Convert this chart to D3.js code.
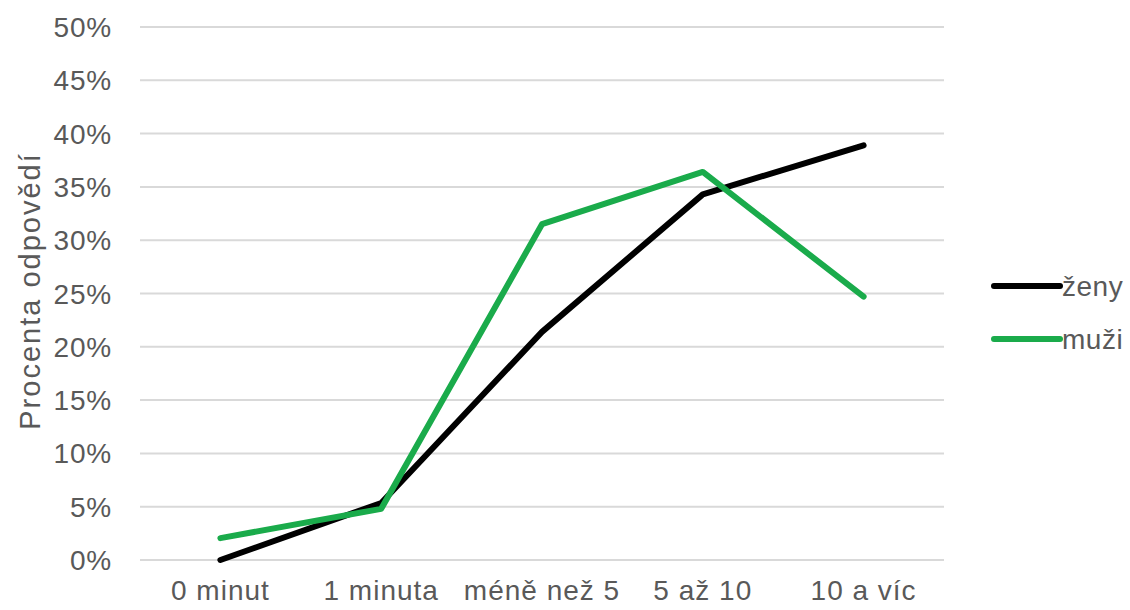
<!DOCTYPE html>
<html><head><meta charset="utf-8">
<script src="https://cdn.jsdelivr.net/npm/d3@7"></script>
<style>body{margin:0;background:#fff}svg{display:block}text{font-family:"Liberation Sans",Arial,sans-serif;fill:#595959}</style>
</head><body><svg id="c" width="1130" height="610"></svg>
<script>
const categories = ["0 minut","1 minuta","méně než 5","5 až 10","10 a víc"];
const zeny = [0.0, 5.35, 21.4, 34.3, 38.9];
const muzi = [2.05, 4.8, 31.5, 36.4, 24.7];
const yTicks = [0,5,10,15,20,25,30,35,40,45,50];
const seriesNames = ["ženy","muži"];
const seriesColors = ["#000000","#1aab4b"];

const svg = d3.select("#c");
const x = d3.scaleBand().domain(categories).range([140,944]);
const y = d3.scaleLinear().domain([0,50]).range([560,27]);
const fs = 28;

svg.append("g").selectAll("line").data(yTicks).join("line")
  .attr("x1",140).attr("x2",944).attr("y1",d=>y(d)).attr("y2",d=>y(d))
  .attr("stroke","#d9d9d9").attr("stroke-width",2);

svg.append("g").selectAll("text").data(yTicks).join("text")
  .attr("x",112).attr("y",d=>y(d)).attr("dy","0.36em").attr("text-anchor","end")
  .attr("font-size",fs).attr("letter-spacing",0.8).text(d=>d+"%");

svg.append("g").selectAll("text").data(categories).join("text")
  .attr("x",d=>x(d)+x.bandwidth()/2).attr("y",600).attr("text-anchor","middle")
  .attr("font-size",fs).attr("letter-spacing",1).text(d=>d);

svg.append("text").attr("transform","translate(40,291) rotate(-90)")
  .attr("text-anchor","middle").attr("font-size",29).attr("letter-spacing",2).text("Procenta odpovědí");

const line = d3.line().x((d,i)=>x(categories[i])+x.bandwidth()/2).y(d=>y(d));
[zeny,muzi].forEach((s,k)=>{
  svg.append("path").datum(s).attr("d",line).attr("fill","none")
    .attr("stroke",seriesColors[k]).attr("stroke-width",6)
    .attr("stroke-linejoin","round").attr("stroke-linecap","round");
});

const lg = svg.append("g");
seriesNames.forEach((n,k)=>{
  const yy = 286 + k*53;
  lg.append("line").attr("x1",994).attr("x2",1060).attr("y1",yy).attr("y2",yy)
    .attr("stroke",seriesColors[k]).attr("stroke-width",6).attr("stroke-linecap","round");
  lg.append("text").attr("x",1062).attr("y",yy).attr("dy","0.36em").attr("font-size",fs).attr("letter-spacing",0.5).text(n);
});
</script></body></html>
